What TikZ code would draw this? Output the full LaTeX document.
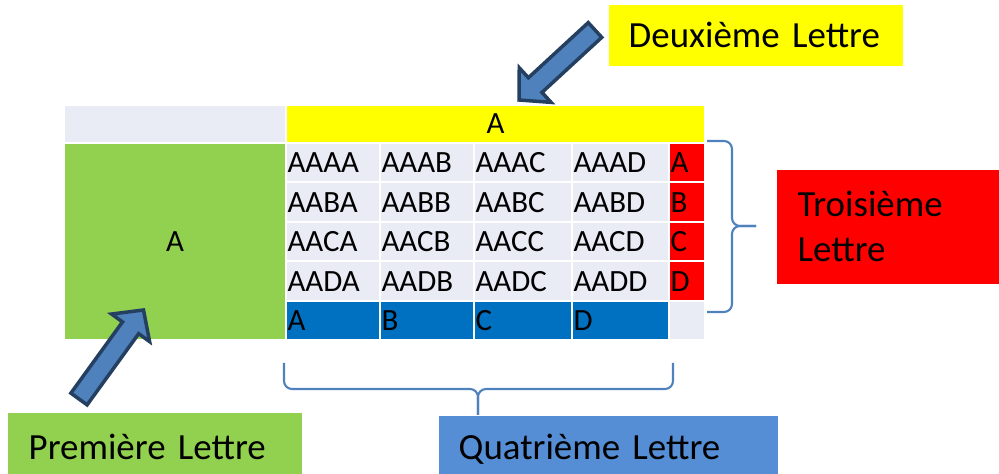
\documentclass[tikz,border=0pt]{standalone}
\usepackage{fontspec}
\setmainfont{Carlito}
\usepackage{xcolor}
\usepackage{tikz}
\usetikzlibrary{calc}

\definecolor{cellgray}{HTML}{E9EBF5}
\definecolor{headyellow}{HTML}{FFFF00}
\definecolor{leftgreen}{HTML}{92D050}
\definecolor{sidered}{HTML}{FF0000}
\definecolor{footblue}{HTML}{0070C0}
\definecolor{labelblue}{HTML}{558ED5}
\definecolor{bracecol}{HTML}{4F81BD}
\definecolor{arrowfill}{HTML}{4F81BD}
\definecolor{arrowedge}{HTML}{243F60}

\newcommand{\tablefont}{\fontsize{8.8}{10.6}\selectfont}
\newcommand{\labelfont}{\fontsize{10.5}{12.8}\selectfont}
% fat arrow from #1 (tail) to #2 (tip)
\newcommand{\blockarrow}[2]{%
  \coordinate (#2-base) at ($(#2)!0.22cm!(#1)$);
  \filldraw[fatarrow] ($(#1)!0.1cm!90:(#2)$) -- ($(#2-base)!0.1cm!90:(#2)$)
    -- ($(#2-base)!0.235cm!90:(#2)$) -- (#2) -- ($(#2-base)!0.235cm!-90:(#2)$)
    -- ($(#2-base)!0.1cm!-90:(#2)$) -- ($(#1)!0.1cm!-90:(#2)$) -- cycle;}

\tikzset{
  cellc/.style={draw=white, line width=0.02cm, anchor=north west, inner sep=0pt, font=\tablefont},
  cell/.style={cellc, fill=cellgray, inner xsep=0.015cm, align=left, minimum height=0.395cm},
  colone/.style={text width=0.91cm},
  coltwo/.style={text width=0.91cm},
  colthree/.style={text width=0.95cm},
  colfour/.style={text width=0.94cm},
  colred/.style={text width=0.33cm},
  labelbox/.style={anchor=north west, inner xsep=0.2cm, inner ysep=0pt, align=left, font=\labelfont},
  bracestyle/.style={draw=bracecol, line width=0.6pt, rounded corners=0.08cm},
  fatarrow/.style={fill=arrowfill, draw=arrowedge, line width=0.035cm, line join=miter}
}

\begin{document}
\begin{tikzpicture}
    \clip (0,0) rectangle (9.99,-4.74);

    % Header row
    \node[cellc, fill=cellgray, minimum width=2.22cm, minimum height=0.38cm] (corner) at (0.63,-1.04) {};
    \node[cellc, fill=headyellow, minimum width=4.19cm, minimum height=0.38cm] (second) at (2.85,-1.04) {A};
    \node[cellc, fill=leftgreen, minimum width=2.22cm, minimum height=1.97cm] (first) at (0.63,-1.42) {A};

    % Row 1
    \node[cell, colone] (aaaa) at (2.85,-1.42) {AAAA};
    \node[cell, coltwo] (aaab) at (3.79,-1.42) {AAAB};
    \node[cell, colthree] (aaac) at (4.73,-1.42) {AAAC};
    \node[cell, colfour] (aaad) at (5.71,-1.42) {AAAD};
    \node[cell, colred, fill=sidered] (thirdA) at (6.68,-1.42) {A};

    % Row 2
    \node[cell, colone] (aaba) at (2.85,-1.815) {AABA};
    \node[cell, coltwo] (aabb) at (3.79,-1.815) {AABB};
    \node[cell, colthree] (aabc) at (4.73,-1.815) {AABC};
    \node[cell, colfour] (aabd) at (5.71,-1.815) {AABD};
    \node[cell, colred, fill=sidered] (thirdB) at (6.68,-1.815) {B};

    % Row 3
    \node[cell, colone] (aaca) at (2.85,-2.21) {AACA};
    \node[cell, coltwo] (aacb) at (3.79,-2.21) {AACB};
    \node[cell, colthree] (aacc) at (4.73,-2.21) {AACC};
    \node[cell, colfour] (aacd) at (5.71,-2.21) {AACD};
    \node[cell, colred, fill=sidered] (thirdC) at (6.68,-2.21) {C};

    % Row 4
    \node[cell, colone] (aada) at (2.85,-2.605) {AADA};
    \node[cell, coltwo] (aadb) at (3.79,-2.605) {AADB};
    \node[cell, colthree] (aadc) at (4.73,-2.605) {AADC};
    \node[cell, colfour] (aadd) at (5.71,-2.605) {AADD};
    \node[cell, colred, fill=sidered] (thirdD) at (6.68,-2.605) {D};

    % Bottom row
    \node[cell, colone, fill=footblue, minimum height=0.39cm] (fourthA) at (2.85,-3.00) {A};
    \node[cell, coltwo, fill=footblue, minimum height=0.39cm] (fourthB) at (3.79,-3.00) {B};
    \node[cell, colthree, fill=footblue, minimum height=0.39cm] (fourthC) at (4.73,-3.00) {C};
    \node[cell, colfour, fill=footblue, minimum height=0.39cm] (fourthD) at (5.71,-3.00) {D};
    \node[cell, colred, minimum height=0.39cm] (spare) at (6.68,-3.00) {};

    % Labels
    \node[labelbox, fill=headyellow, minimum width=2.94cm, minimum height=0.61cm, text width=2.54cm] (deux) at (6.08,-0.04) {Deuxième Lettre};
    \node[labelbox, fill=sidered, inner xsep=0.21cm, minimum height=1.14cm, text width=1.98cm] (trois) at (7.76,-1.69) {Troisième\\Lettre};
    \node[labelbox, fill=leftgreen, inner xsep=0.21cm, minimum height=0.68cm, text width=2.52cm] (prem) at (0.07,-4.12) {Première Lettre};
    \node[labelbox, fill=labelblue, minimum height=0.67cm, text width=2.99cm] (quat) at (4.38,-4.15) {Quatrième Lettre};

    % Arrows
    \coordinate (deuxtail) at (5.95,-0.30);
    \coordinate (deuxtip) at (5.19,-1.00);
    \blockarrow{deuxtail}{deuxtip}
    \coordinate (premtail) at (0.79,-3.99);
    \coordinate (premtip) at (1.435,-3.10);
    \blockarrow{premtail}{premtip}

    % Braces
    \coordinate (qleft) at (2.84,-3.63);
    \coordinate (qright) at (6.73,-3.63);
    \coordinate (qmid) at (4.78,-3.89);
    \draw[bracestyle] (qleft) |- (qmid) -- (qmid |- quat.north);
    \draw[bracestyle] (qright) |- (qmid) -- (qmid |- quat.north);
    \coordinate (rtop) at (7.07,-1.41);
    \coordinate (rbot) at (7.07,-3.12);
    \coordinate (rmid) at (7.32,-2.26);
    \draw[bracestyle] (rtop) -| (rmid) -- (7.56,-2.26);
    \draw[bracestyle] (rbot) -| (rmid) -- (7.56,-2.26);
\end{tikzpicture}
\end{document}
